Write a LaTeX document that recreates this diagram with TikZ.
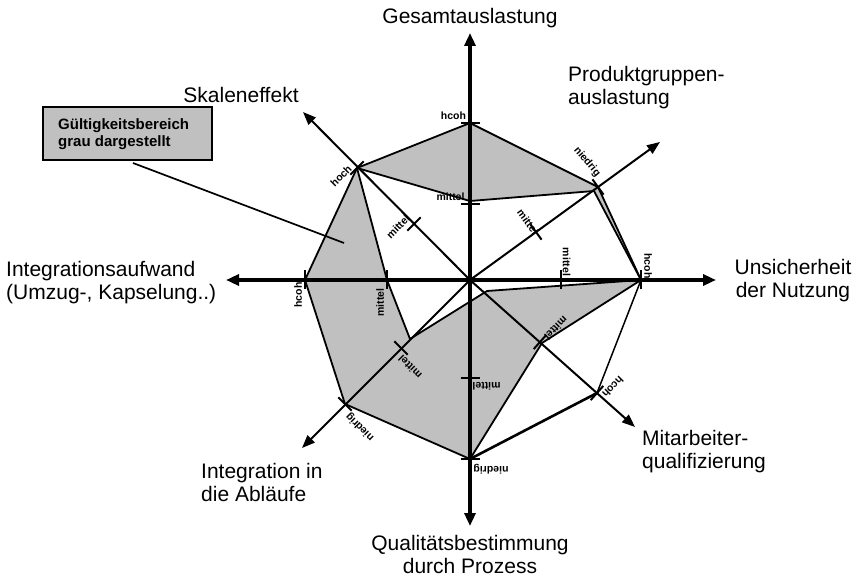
\documentclass[tikz,border=0pt]{standalone}
\usepackage{fontspec}
\setmainfont{Liberation Sans}
\usetikzlibrary{arrows.meta,calc}
\definecolor{regiongrey}{RGB}{192,192,192}
\begin{document}
\begin{tikzpicture}[x=1pt,y=-1pt,
  mainaxis/.style={line width=3.2pt,{Triangle[length=13pt,width=11pt]}-{Triangle[length=13pt,width=11pt]}},
  diagaxis/.style={line width=2pt,-{Triangle[length=13pt,width=10pt]}},
  edge/.style={line width=1.8pt,line join=round,line cap=round},
  mtick/.style={line width=2.8pt},
  dtick/.style={line width=2pt},
  axlabel/.style={font=\fontsize{21}{23.4}\selectfont,inner sep=0pt},
  ticklabel/.style={font=\fontsize{10.5}{12}\selectfont\bfseries,inner sep=0pt},
  legendbox/.style={draw=black,line width=1.6pt,fill=regiongrey,minimum width=169pt,minimum height=53pt,inner sep=0pt},
  legendtext/.style={font=\fontsize{15}{18}\selectfont\bfseries,inner sep=0pt,anchor=base west}]
\useasboundingbox (0,0) rectangle (857,577);

% centre and axis tips
\coordinate (O) at (470,280);
\coordinate (aN) at (470,33);
\coordinate (aS) at (470,526);
\coordinate (aW) at (226,280);
\coordinate (aE) at (716,280);
\coordinate (aNW) at (303,112);
\coordinate (aSE) at (635,427);
\coordinate (aNE) at (660,142);
\coordinate (aSW) at (302,448);

% polygon vertices
\coordinate (T1) at (470,123);
\coordinate (T2) at (470,201);
\coordinate (NE1) at (598,187);
\coordinate (NEi) at (594,191);
\coordinate (E1) at (641,280);
\coordinate (P) at (487,291);
\coordinate (SEm) at (542,343);
\coordinate (SEh) at (597,393);
\coordinate (B1) at (470,459);
\coordinate (SW1) at (345,404);
\coordinate (Q) at (410,339);
\coordinate (W1) at (305,280);
\coordinate (Wm) at (387,280);
\coordinate (NW1) at (357,168);

% tick positions not on polygon
\coordinate (Tm) at (470,204);
\coordinate (Bm) at (470,378);
\coordinate (Em) at (561,280);
\coordinate (NWm) at (414,224);
\coordinate (NEm) at (536,232);
\coordinate (SEt) at (540,342);
\coordinate (SWm) at (401,348);

% grey region
\fill[regiongrey,even odd rule] (W1) -- (NW1) -- (T1) -- (NE1) -- (E1) -- (SEm) -- (B1) -- (SW1) -- cycle
  (NW1) -- (T2) -- (NEi) -- (E1) -- (P) -- (Q) -- (Wm) -- cycle;

% axes
\draw[mainaxis] (aS) -- (aN);
\draw[mainaxis] (aW) -- (aE);
\draw[diagaxis] (O) -- (aNW);
\draw[diagaxis] (O) -- (aSE);
\draw[diagaxis] (O) -- (aNE);
\draw[diagaxis] (O) -- (aSW);

% polygon edges
\draw[edge] (W1) -- (NW1) -- (T1) -- (NE1) -- (E1);
\draw[edge,line width=1.5pt] (E1) -- (SEh);
\draw[edge,line width=2.6pt] (SEh) -- (B1);
\draw[edge] (B1) -- (SW1) -- (W1);
\draw[edge] (E1) -- (SEm) -- (B1);
\draw[edge] (NW1) -- (T2) -- (NEi) -- (E1) -- (P) -- (Q) -- (Wm) -- cycle;

% tick labels
\node[ticklabel] (lT1) at (453.5,116) {hcoh};
\node[ticklabel] (lTm) at (450.5,197) {mittel};
\node[ticklabel,rotate=180] (lBm) at (486.5,386) {mittel};
\node[ticklabel,rotate=180] (lB1) at (491,469) {niedrig};
\node[ticklabel,rotate=90] (lW1) at (298,295) {hcoh};
\node[ticklabel,rotate=90] (lWm) at (380,302.5) {mittel};
\node[ticklabel,rotate=-90] (lEm) at (566.5,262) {mittel};
\node[ticklabel,rotate=-90] (lE1) at (648,266) {hcoh};
\node[ticklabel,rotate=45] (lNW1) at (341,176) {hoch};
\node[ticklabel,rotate=45] (lNWm) at (398,227) {mittel};
\node[ticklabel,rotate=-50] (lNE1) at (587,162) {niedrig};
\node[ticklabel,rotate=-54] (lNEm) at (528,222) {mittel};
\node[ticklabel,rotate=-135] (lSEm) at (556,328) {mittel};
\node[ticklabel,rotate=-135] (lSEh) at (613,387) {hcoh};
\node[ticklabel,rotate=135] (lSWm) at (410,367) {mittel};
\node[ticklabel,rotate=135] (lSW1) at (360,427) {niedrig};

% ticks
\foreach \p in {T1,Tm,Bm,B1,W1,Wm,Em,E1}
  \draw[mtick] ($(\p)!9.5pt!90:(O)$) -- ($(\p)!9.5pt!-90:(O)$);
\foreach \p in {NW1,NWm,NE1,NEm,SEt,SEh,SWm,SW1}
  \draw[dtick] ($(\p)!9.5pt!90:(O)$) -- ($(\p)!9.5pt!-90:(O)$);

% axis labels
\node[axlabel,anchor=base] (tN) at (470,24) {Gesamtauslastung};
\node[axlabel,anchor=base west] (tNE1) at (568,81.5) {Produktgruppen-};
\node[axlabel,anchor=base west] (tNE2) at (568,105) {auslastung};
\node[axlabel,anchor=base] (tNW) at (241,103) {Skaleneffekt};
\node[axlabel,anchor=base west] (tW1) at (6,277) {Integrationsaufwand};
\node[axlabel,anchor=base west] (tW2) at (6,300) {(Umzug-, Kapselung..)};
\node[axlabel,anchor=base] (tE1) at (793,275) {Unsicherheit};
\node[axlabel,anchor=base] (tE2) at (793,298) {der Nutzung};
\node[axlabel,anchor=base west] (tSE1) at (642,445) {Mitarbeiter-};
\node[axlabel,anchor=base west] (tSE2) at (642,468) {qualifizierung};
\node[axlabel,anchor=base west] (tSW1) at (201,478) {Integration in};
\node[axlabel,anchor=base west] (tSW2) at (201,501) {die Abläufe};
\node[axlabel,anchor=base] (tS1) at (470,550.5) {Qualitätsbestimmung};
\node[axlabel,anchor=base] (tS2) at (470,573.5) {durch Prozess};

% legend
\node[legendbox] (legend) at (127.5,133.5) {};
\node[legendtext] (leg1) at (58,129.5) {Gültigkeitsbereich};
\node[legendtext] (leg2) at (58,147) {grau dargestellt};
\coordinate (ls) at (133,163);
\coordinate (le) at (344,243);
\draw[line width=1.7pt] (ls) -- (le);
\end{tikzpicture}
\end{document}
